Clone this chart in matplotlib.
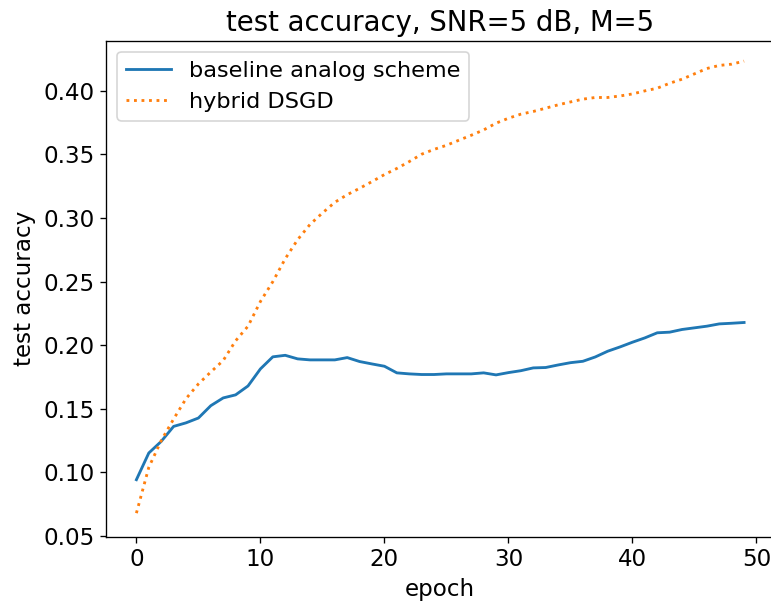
import matplotlib

matplotlib.use("Agg")
import matplotlib.pyplot as plt
import numpy as np

plt.rcParams["font.size"] = 13.8
plt.rcParams["axes.titlesize"] = 16.5
plt.rcParams["legend.fontsize"] = 13.4
plt.rcParams["lines.linewidth"] = 1.7

# test accuracy per epoch, SNR=5 dB, M=5 devices
epochs = np.arange(50)

baseline_acc = [
    0.0943, 0.1153, 0.1244, 0.1362, 0.1390, 0.1428, 0.1525, 0.1586, 0.1610, 0.1680,
    0.1814, 0.1909, 0.1921, 0.1893, 0.1885, 0.1885, 0.1885, 0.1903, 0.1872, 0.1853,
    0.1835, 0.1783, 0.1775, 0.1770, 0.1770, 0.1775, 0.1775, 0.1775, 0.1783, 0.1767,
    0.1785, 0.1800, 0.1822, 0.1825, 0.1845, 0.1863, 0.1874, 0.1908, 0.1953, 0.1987,
    0.2024, 0.2058, 0.2098, 0.2103, 0.2124, 0.2137, 0.2150, 0.2168, 0.2173, 0.2179,
]

hybrid_acc = [
    0.0680, 0.1040, 0.1250, 0.1420, 0.1580, 0.1696, 0.1790, 0.1880, 0.2035, 0.2150,
    0.2344, 0.2500, 0.2680, 0.2830, 0.2950, 0.3040, 0.3124, 0.3184, 0.3234, 0.3287,
    0.3342, 0.3390, 0.3444, 0.3502, 0.3540, 0.3572, 0.3612, 0.3651, 0.3693, 0.3746,
    0.3785, 0.3817, 0.3838, 0.3864, 0.3890, 0.3913, 0.3935, 0.3948, 0.3948, 0.3960,
    0.3976, 0.4000, 0.4021, 0.4060, 0.4092, 0.4134, 0.4176, 0.4200, 0.4210, 0.4234,
]

fig = plt.figure(figsize=(771 / 120, 602 / 120), dpi=120)
ax = fig.add_axes([0.1375, 0.1085, 0.867, 0.824])

ax.plot(epochs, baseline_acc, label="baseline analog scheme")
ax.plot(epochs, hybrid_acc, ":", label="hybrid DSGD")

ax.set_xlim(-2.45, 51.45)
ax.set_ylim(0.0495, 0.4395)
ax.set_yticks([0.05, 0.10, 0.15, 0.20, 0.25, 0.30, 0.35, 0.40])
ax.set_xlabel("epoch")
ax.set_ylabel("test accuracy")
ax.set_title("test accuracy, SNR=5 dB, M=5")
ax.legend(loc="upper left")

fig.savefig("out.png", dpi=120)
